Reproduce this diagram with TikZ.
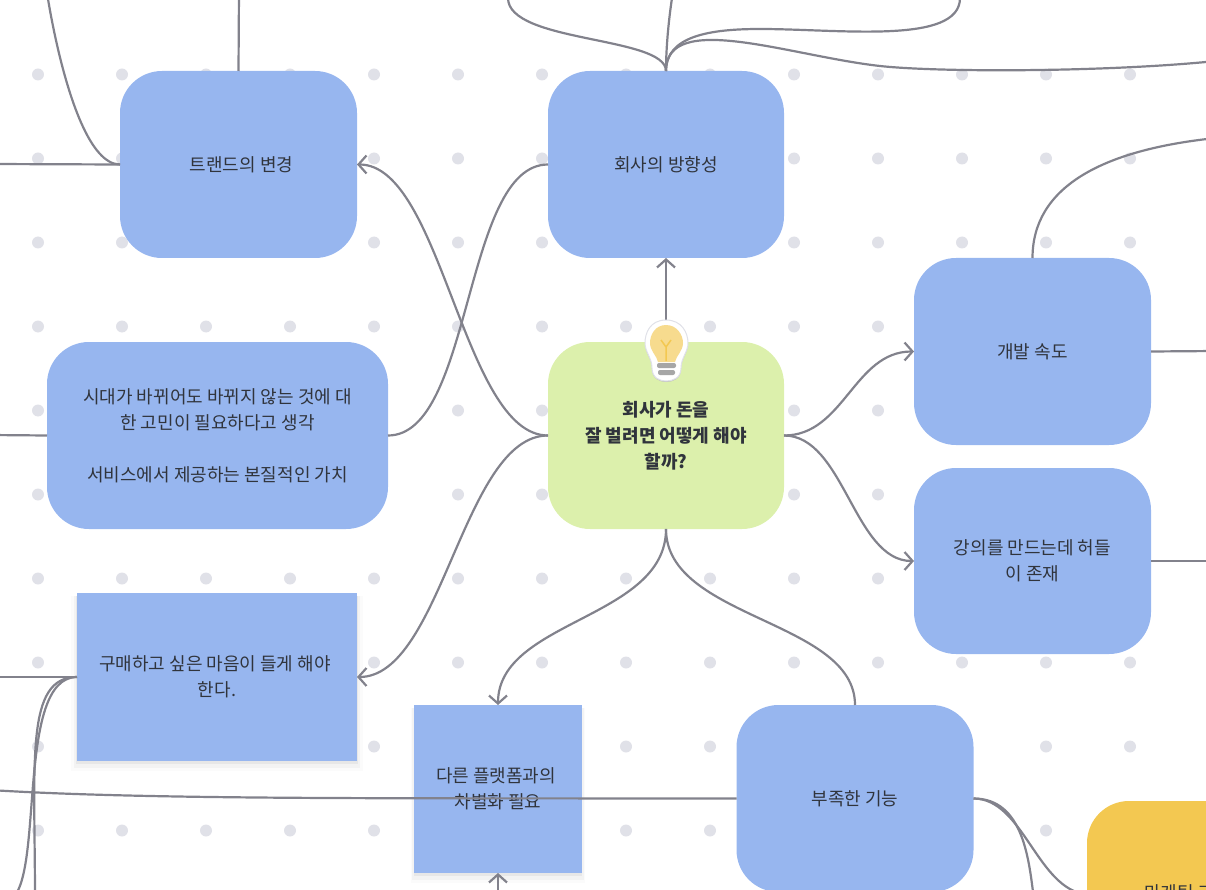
\documentclass[tikz,border=0pt]{standalone}
\usepackage{fontspec}
\setmainfont{Noto Sans CJK KR}
\usetikzlibrary{positioning, shadows}
\usetikzlibrary{arrows.meta}
\definecolor{topicblue}{HTML}{97B6EF}
\definecolor{centergreen}{HTML}{DCF0AC}
\definecolor{markyellow}{HTML}{F3C851}
\definecolor{griddot}{HTML}{E0E1E8}
\definecolor{linkgray}{HTML}{82828C}
\definecolor{labelink}{HTML}{30343C}
\tikzset{>={Straight Barb[width=18pt,length=8pt,line width=2.2pt]}}

\begin{document}
\begin{tikzpicture}[x=1pt, y=-1pt, node distance=84pt, inner sep=0pt, outer sep=0pt,
    topic/.style={rectangle, rounded corners=42pt, fill=topicblue, minimum width=237pt, minimum height=187pt, align=center, text=labelink, font=\fontsize{18}{26}\selectfont},
    lowered/.style={execute at begin node={\rule{0pt}{22pt}}},
    root/.style={topic, lowered, fill=centergreen, minimum width=236pt, font=\fontsize{18}{26}\selectfont\bfseries},
    sticky/.style={rectangle, lowered, fill=topicblue, minimum height=168pt, align=center, text=labelink, font=\fontsize{18}{26}\selectfont,
        drop shadow={shadow scale=1.04, shadow xshift=0pt, shadow yshift=-6pt, opacity=0.015, fill=black},
        drop shadow={shadow scale=1.02, shadow xshift=0pt, shadow yshift=-5pt, opacity=0.03, fill=black},
        drop shadow={shadow scale=1.005, shadow xshift=0pt, shadow yshift=-3pt, opacity=0.05, fill=black}},
    link/.style={draw=linkgray, line width=2.2pt}]

    \useasboundingbox (0,0) rectangle (1206,890);
    \clip (0,0) rectangle (1206,890);

    %Dots
    \foreach \dotx in {38,122,...,1130}
        \foreach \doty in {74.5,158.5,...,831}
            \fill[griddot] (\dotx,\doty) circle (6pt);

    %Nodes
    \node[root](center) at (666,435.5){회사가 돈을\\잘 벌려면 어떻게 해야\\할까?};
    \node[topic, minimum width=236pt](direction)[above=84pt of center]{회사의 방향성};
    \node[topic](trend)[left=191pt of direction]{\hspace*{6pt}트랜드의 변경};
    \node[topic, minimum width=341pt](value)[left=160pt of center]{시대가 바뀌어도 바뀌지 않는 것에 대\\한 고민이 필요하다고 생각\\\mbox{}\\서비스에서 제공하는 본질적인 가치};
    \node[topic](speed)[right=130pt of center, yshift=84pt]{개발 속도};
    \node[topic, lowered, minimum height=186pt](lecture)[below=23pt of speed]{강의를 만드는데 허들\\이 존재};
    \node[sticky, minimum width=280pt](buy) at (217,677){구매하고 싶은 마음이 들게 해야\hspace*{4pt}\\한다.};
    \node[sticky, minimum width=168pt](platform) at (498,789){다른 플랫폼과의\hspace*{4pt}\\차별화 필요};
    \node[topic](lack) at (855,798.5){부족한 기능};
    \node[topic, fill=markyellow, anchor=north west](marketing) at (1087,801){};
    \node[text=labelink, font=\fontsize{18}{26}\selectfont, anchor=base west](marketing_text) at (1144,899){마케팅 크};

    %Free ends
    \coordinate (trend_up) at (239,-10);
    \coordinate (trend_far) at (48,-10);
    \coordinate (trend_left) at (-10,164);
    \coordinate (dir_a) at (508,-2);
    \coordinate (dir_b) at (672,-2);
    \coordinate (dir_c_mid) at (760,29);
    \coordinate (dir_c) at (960,-2);
    \coordinate (dir_d_mid) at (880,66);
    \coordinate (dir_d) at (1216,61);
    \coordinate (speed_up) at (1216,138);
    \coordinate (speed_right) at (1216,351);
    \coordinate (lecture_right) at (1216,561);
    \coordinate (value_left) at (-10,435);
    \coordinate (buy_left) at (-10,677);
    \coordinate (buy_down) at (35,900);
    \coordinate (buy_far) at (10,900);
    \coordinate (lack_left) at (-10,790);
    \coordinate (lack_down) at (1034,900);
    \coordinate (platform_down) at (498,900);

    %Lines
    \draw[link, ->] (center.north) -- (direction.south);
    \draw[link, ->] (center.west) .. controls +(-85,0) and +(85,0) .. (trend.east);
    \draw[link, ->] (center.west) .. controls +(-85,0) and +(85,0) .. (buy.east);
    \draw[link] (value.east) .. controls +(85,0) and +(-85,0) .. (direction.west);
    \draw[link, ->] (center.east) .. controls +(60,0) and +(-60,0) .. (speed.west);
    \draw[link, ->] (center.east) .. controls +(60,0) and +(-60,0) .. (lecture.west);
    \draw[link, ->] (center.south) .. controls +(0,90) and +(0,-85) .. (platform.north);
    \draw[link] (center.south) .. controls +(0,90) and +(0,-85) .. (lack.north);
    \draw[link] (lack.east) .. controls +(50,0) and +(-5,-40) .. (lack_down);
    \draw[link] (lack.east) .. controls +(50,0) and +(-50,-5) .. (marketing.west);
    \draw[link] (lack.west) .. controls (400,798) and (150,800) .. (lack_left);
    \draw[link] (trend.north) -- (trend_up);
    \draw[link] (trend.west) .. controls +(-60,0) and +(-15,-100) .. (trend_far);
    \draw[link] (trend.west) -- (trend_left);
    \draw[link] (value.west) -- (value_left);
    \draw[link] (buy.west) -- (buy_left);
    \draw[link] (buy.west) .. controls (25,677) and (35,760) .. (buy_down);
    \draw[link] (buy.west) .. controls (15,677) and (45,880) .. (buy_far);
    \draw[link] (direction.north) .. controls +(0,-35) and +(0,45) .. (dir_a);
    \draw[link] (direction.north) .. controls +(0,-25) and +(-3,20) .. (dir_b);
    \draw[link] (direction.north) .. controls +(0,-35) and +(-50,0) .. (dir_c_mid) .. controls (840,29) and (960,45) .. (dir_c);
    \draw[link] (direction.north) .. controls (666,10) and (790,56) .. (dir_d_mid) .. controls (940,72.6) and (1110,72) .. (dir_d);
    \draw[link] (speed.north) .. controls +(0,-70) and (1100,150) .. (speed_up);
    \draw[link] (speed.east) -- (speed_right);
    \draw[link] (lecture.east) -- (lecture_right);
    \draw[link, ->] (platform_down) -- (platform.south);

    %Bulb
    \fill[black!25, yshift=-1pt] (666,320) .. controls (650,320) and (645,333) .. (645,343) .. controls (645,352) and (652,358) .. (652,368) .. controls (652,378) and (660,381) .. (666,381) .. controls (673,381) and (681,378) .. (681,368) .. controls (681,358) and (688,352) .. (688,343) .. controls (688,333) and (682,320) .. (666,320) -- cycle;
    \filldraw[fill=white, draw=griddot, line width=1pt] (666,320) .. controls (650,320) and (645,333) .. (645,343) .. controls (645,352) and (652,358) .. (652,368) .. controls (652,378) and (660,381) .. (666,381) .. controls (673,381) and (681,378) .. (681,368) .. controls (681,358) and (688,352) .. (688,343) .. controls (688,333) and (682,320) .. (666,320) -- cycle;
    \fill[markyellow!65!white] (666,325) .. controls (655,325) and (650,335) .. (650,343) .. controls (650,351) and (657,356) .. (658,362) -- (675,362) .. controls (676,356) and (683,351) .. (683,343) .. controls (683,335) and (677,325) .. (666,325) -- cycle;
    \draw[markyellow, line width=1.5pt] (666,361) -- (666,347) -- (661,340) (666,347) -- (671,340);
    \fill[black!35, rounded corners=2pt] (657,363) rectangle (676,368);
    \fill[black!35, rounded corners=2pt] (658,370) rectangle (675,375);

\end{tikzpicture}
\end{document}
